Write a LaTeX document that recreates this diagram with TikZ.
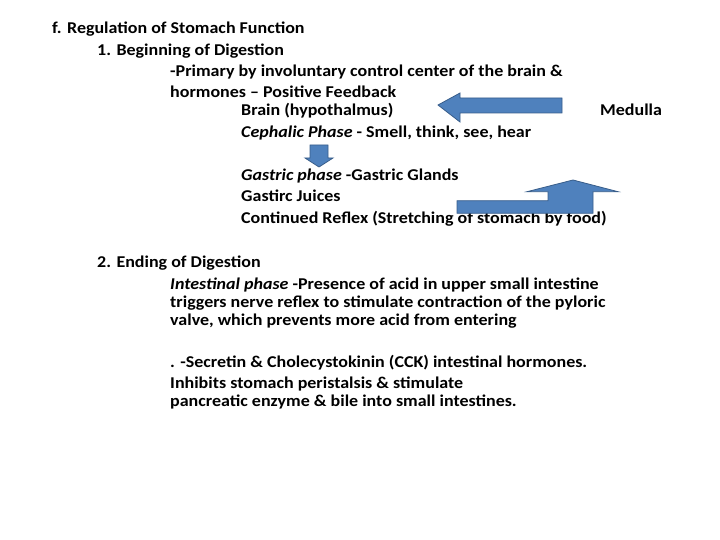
\documentclass[tikz,border=0pt]{standalone}
\usepackage{fontspec}
\setmainfont[FakeStretch=1.09]{Carlito}
\begin{document}
\begin{tikzpicture}[x=1pt,y=-1pt,
  t/.style={anchor=base west,inner sep=0pt,font=\bfseries\fontsize{16.5}{19}\selectfont},
  blk/.style={line width=0.8pt,fill={rgb,255:red,79;green,129;blue,189},draw={rgb,255:red,56;green,93;blue,138}}]
\useasboundingbox (0,0) rectangle (720,540);
\node[t] (l1) at (52,34) {f. Regulation of Stomach Function};
\node[t] (l2) at (97,56) {1. Beginning of Digestion};
\node[t] (l3) at (170,77) {-Primary by involuntary control center of the brain \&};
\node[t] (l4) at (170,98) {hormones -- Positive Feedback};
\node[t] (l5) at (241,116) {Brain (hypothalmus)};
\node[t] (l5b) at (600,116) {Medulla};
\node[t] (l6) at (241,138) {\textit{Cephalic Phase} - Smell, think, see, hear};
\node[t] (l7) at (241,181) {\textit{Gastric phase} -Gastric Glands};
\node[t] (l8) at (241,202) {Gastirc Juices};
\node[t] (l9) at (241,224) {Continued Reflex (Stretching of stomach by food)};
\node[t] (l10) at (97,267) {2. Ending of Digestion};
\node[t] (l11) at (170,289) {\textit{Intestinal phase} -Presence of acid in upper small intestine};
\node[t] (l12) at (170,307) {triggers nerve reflex to stimulate contraction of the pyloric};
\node[t] (l13) at (170,325) {valve, which prevents more acid from entering};
\node[t] (l14) at (170,367) {. -Secretin \& Cholecystokinin (CCK) intestinal hormones.};
\node[t] (l15) at (170,388) {Inhibits stomach peristalsis \& stimulate};
\node[t] (l16) at (170,406) {pancreatic enzyme \& bile into small intestines.};
% left arrow
\draw[blk] (438,105) -- (460,93) -- (460,98) -- (562,98) -- (562,113) -- (460,113) -- (460,122) -- cycle;
% down arrow
\draw[blk] (310,145) -- (328,145) -- (328,158) -- (333,158) -- (319,167) -- (305,158) -- (310,158) -- cycle;
% up arrow
\draw[blk] (573,180) -- (618,191.7) -- (593,191.7) -- (593,213.3) -- (457,213.3) -- (457,200.7) -- (548,200.7) -- (548,191.7) -- (527,191.7) -- cycle;
\end{tikzpicture}
\end{document}
